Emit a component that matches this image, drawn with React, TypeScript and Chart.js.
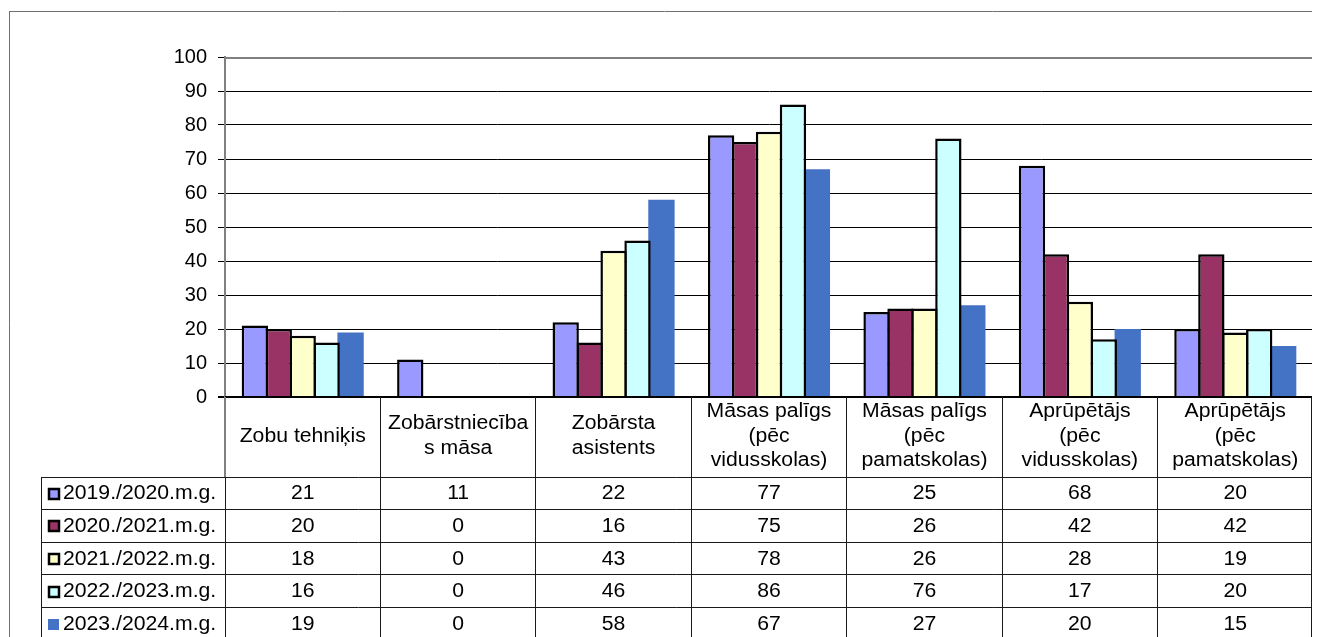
import React, { useEffect, useRef } from "react";
import { Chart, registerables } from "chart.js";

Chart.register(...registerables);

// ---- data ----
const categories: string[][] = [
  ["Zobu tehniķis"],
  ["Zobārstniecība", "s māsa"],
  ["Zobārsta", "asistents"],
  ["Māsas palīgs", "(pēc", "vidusskolas)"],
  ["Māsas palīgs", "(pēc", "pamatskolas)"],
  ["Aprūpētājs", "(pēc", "vidusskolas)"],
  ["Aprūpētājs", "(pēc", "pamatskolas)"],
];

const seriesLabels = [
  "2019./2020.m.g.",
  "2020./2021.m.g.",
  "2021./2022.m.g.",
  "2022./2023.m.g.",
  "2023./2024.m.g.",
];

const values2019 = [21, 11, 22, 77, 25, 68, 20];
const values2020 = [20, 0, 16, 75, 26, 42, 42];
const values2021 = [18, 0, 43, 78, 26, 28, 19];
const values2022 = [16, 0, 46, 86, 76, 17, 20];
const values2023 = [19, 0, 58, 67, 27, 20, 15];

const seriesValues = [values2019, values2020, values2021, values2022, values2023];
const seriesColors = ["#9999FF", "#993366", "#FFFFCC", "#CCFFFF", "#4472C4"];

const yMin = 0;
const yMax = 100;
const yStep = 10;

// ---- layout / style ----
const W = 1312;
const H = 629;
const FONT_FAMILY = "'Liberation Sans', Arial, sans-serif";
const FONT_SIZE = 20;
const SX = 1.06;

function drawText(
  ctx: CanvasRenderingContext2D,
  text: string,
  x: number,
  y: number,
  align: CanvasTextAlign
) {
  ctx.save();
  ctx.translate(x, y);
  ctx.scale(SX, 1);
  ctx.textAlign = align;
  ctx.textBaseline = "middle";
  ctx.fillText(text, 0, 0);
  ctx.restore();
}

const tablePlugin = {
  id: "excelTable",
  afterDatasetsDraw(chart: any) {
    const ctx: CanvasRenderingContext2D = chart.ctx;
    const area = chart.chartArea;
    ctx.save();
    // x axis baseline over bars
    ctx.strokeStyle = "#000";
    ctx.lineWidth = 2;
    ctx.beginPath();
    ctx.moveTo(area.left, area.bottom);
    ctx.lineTo(area.right, area.bottom);
    ctx.stroke();
    // plot area border (top, right)
    ctx.strokeStyle = "#808080";
    ctx.lineWidth = 2;
    ctx.beginPath();
    ctx.moveTo(area.left - 1, area.top + 1);
    ctx.lineTo(area.right, area.top + 1);
    ctx.lineTo(area.right, area.bottom);
    ctx.stroke();
    ctx.restore();
  },
  afterDraw(chart: any) {
    const ctx: CanvasRenderingContext2D = chart.ctx;
    const area = chart.chartArea;
    const xs = chart.scales.x;
    const n = categories.length;
    const colW = (area.right - area.left) / n;
    const headTop = area.bottom;
    const headBot = headTop + 80;
    const rowH = 32.6;
    const legendLeft = 33;
    const tableRight = area.right - 1.5;

    ctx.save();
    // outer chart border
    ctx.strokeStyle = "#707070";
    ctx.lineWidth = 1;
    ctx.beginPath();
    ctx.moveTo(1.5, 3.5);
    ctx.lineTo(1.5, H);
    ctx.moveTo(1, 3.5);
    ctx.lineTo(W, 3.5);
    ctx.stroke();

    // table lines
    ctx.strokeStyle = "#1a1a1a";
    ctx.lineWidth = 1;
    ctx.beginPath();
    for (let k = 0; k <= seriesLabels.length; k++) {
      const y = Math.floor(headBot + k * rowH) + 0.5;
      ctx.moveTo(legendLeft, y);
      ctx.lineTo(tableRight, y);
    }
    ctx.moveTo(legendLeft + 0.5, headBot);
    ctx.lineTo(legendLeft + 0.5, H);
    for (let i = 1; i < n; i++) {
      const x = Math.floor(area.left + i * colW) + 0.5;
      ctx.moveTo(x, headTop);
      ctx.lineTo(x, H);
    }
    ctx.moveTo(tableRight, headTop);
    ctx.lineTo(tableRight, H);
    ctx.moveTo(area.left + 0.5, headBot);
    ctx.lineTo(area.left + 0.5, H);
    ctx.stroke();

    ctx.strokeStyle = "#808080";
    ctx.lineWidth = 2;
    ctx.beginPath();
    ctx.moveTo(area.left, headTop);
    ctx.lineTo(area.left, headBot);
    ctx.stroke();

    // texts
    ctx.fillStyle = "#000";
    ctx.font = `${FONT_SIZE}px ${FONT_FAMILY}`;
    const headCenter = headTop + 39;
    const lineH = 24.5;
    categories.forEach((lines, i) => {
      const cx = xs.getPixelForValue(i);
      lines.forEach((t, j) => {
        const y = headCenter + (j - (lines.length - 1) / 2) * lineH;
        drawText(ctx, t, cx, y, "center");
      });
    });

    seriesLabels.forEach((label, k) => {
      const cy = headBot + k * rowH + rowH / 2 + 0.5;
      // legend key
      ctx.fillStyle = seriesColors[k];
      if (k < 4) {
        ctx.fillRect(41, Math.round(cy) - 5, 10, 10);
        ctx.strokeStyle = "#000";
        ctx.lineWidth = 2.5;
        ctx.strokeRect(41, Math.round(cy) - 5, 10, 10);
      } else {
        ctx.fillRect(40, Math.round(cy) - 5, 11, 11);
      }
      ctx.fillStyle = "#000";
      drawText(ctx, label, 55, cy, "left");
      seriesValues[k].forEach((v, i) => {
        drawText(ctx, String(v), xs.getPixelForValue(i), cy, "center");
      });
    });
    ctx.restore();
  },
};

export default function App() {
  const ref = useRef<HTMLCanvasElement>(null);

  useEffect(() => {
    const canvas = ref.current;
    if (!canvas) return;
    const chart = new Chart(canvas, {
      type: "bar",
      data: {
        labels: categories,
        datasets: seriesLabels.map((label, i) => ({
          label,
          data: seriesValues[i],
          backgroundColor: seriesColors[i],
          borderColor: "#000",
          borderWidth: i === 4 ? 0 : 2.5,
          categoryPercentage: 0.77,
          barPercentage: 1.1,
        })),
      },
      options: {
        responsive: false,
        animation: false,
        devicePixelRatio: 1,
        events: [],
        layout: { padding: { left: 0, right: 7, top: 49, bottom: 240 } },
        plugins: {
          legend: { display: false },
          tooltip: { enabled: false },
        },
        scales: {
          x: { display: false },
          y: {
            min: yMin,
            max: yMax,
            afterFit: (s: any) => {
              s.width = 217;
            },
            ticks: {
              stepSize: yStep,
              color: "#000",
              padding: 11,
              font: { family: FONT_FAMILY, size: FONT_SIZE },
            },
            grid: {
              color: "#000",
              tickColor: "#000",
              tickLength: 7,
              lineWidth: (c: any) => (c.tick && c.tick.value === 0 ? 2 : 1),
            },
            border: { display: true, color: "#808080", width: 2 },
          },
        },
      },
      plugins: [tablePlugin],
    } as any);
    return () => chart.destroy();
  }, []);

  return (
    <>
      <style>{"html,body{overflow:hidden}"}</style>
      <div style={{ width: W, height: H }}>
        <canvas
          ref={ref}
          width={W}
          height={H}
          style={{ display: "block", width: W, height: H }}
        />
      </div>
    </>
  );
}
